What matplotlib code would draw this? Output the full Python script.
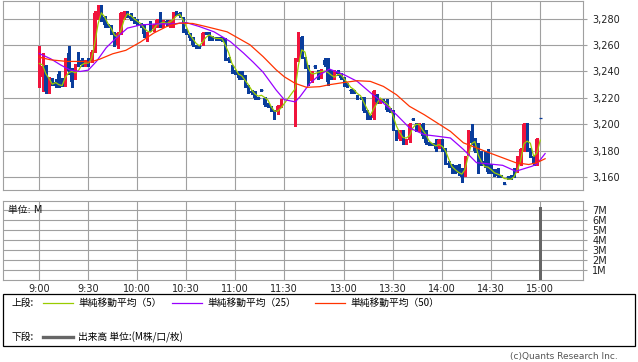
import numpy as np
import pandas as pd
import matplotlib
matplotlib.use("Agg")
import matplotlib.pyplot as plt
from matplotlib.patches import Rectangle
from matplotlib.lines import Line2D

plt.rcParams["font.family"] = ["DejaVu Sans", "Noto Sans CJK JP"]

# ---- colours ----
UP = "#f0143c"
DOWN = "#0a3d9c"
MA5_C = "#99cc00"
MA25_C = "#9900ff"
MA50_C = "#ff3300"
GRID = "#a0a0a0"
VOL_C = "#666666"

# ---- 2-minute bars, morning session 9:00-11:28 ----
am_open = [3240, 3236, 3244, 3225, 3234, 3232, 3238, 3233, 3230, 3254, 3240, 3235, 3250, 3249, 3244,
           3248, 3248, 3256, 3285, 3289, 3281, 3275, 3274, 3269, 3260, 3269, 3282, 3285, 3282, 3280,
           3279, 3276, 3275, 3264, 3277, 3272, 3275, 3279, 3275, 3278, 3275, 3276, 3285, 3284, 3280,
           3271, 3268, 3265, 3259, 3259, 3262, 3269, 3269, 3266, 3265, 3265, 3265, 3264, 3250, 3244,
           3240, 3239, 3239, 3236, 3229, 3225, 3224, 3220, 3226, 3220, 3215, 3213, 3210, 3209, 3214]
am_high = [3259, 3254, 3245, 3236, 3235, 3234, 3240, 3235, 3250, 3259, 3243, 3246, 3255, 3250, 3249,
           3250, 3256, 3286, 3290, 3290, 3282, 3276, 3275, 3270, 3270, 3285, 3286, 3286, 3284, 3281,
           3280, 3277, 3276, 3270, 3278, 3276, 3280, 3285, 3279, 3279, 3279, 3285, 3286, 3285, 3281,
           3272, 3269, 3266, 3260, 3260, 3270, 3270, 3270, 3267, 3266, 3266, 3266, 3265, 3251, 3245,
           3241, 3240, 3240, 3237, 3230, 3226, 3225, 3221, 3227, 3221, 3216, 3214, 3211, 3215, 3219]
am_low = [3228, 3225, 3224, 3224, 3230, 3228, 3228, 3229, 3229, 3238, 3228, 3234, 3244, 3244, 3244,
          3244, 3247, 3255, 3280, 3278, 3274, 3274, 3268, 3259, 3258, 3268, 3280, 3281, 3279, 3277,
          3275, 3274, 3266, 3263, 3271, 3271, 3274, 3274, 3274, 3275, 3274, 3274, 3283, 3281, 3270,
          3268, 3264, 3259, 3258, 3258, 3260, 3268, 3264, 3264, 3264, 3264, 3263, 3249, 3247, 3239,
          3238, 3234, 3234, 3228, 3224, 3223, 3219, 3219, 3225, 3214, 3213, 3210, 3204, 3208, 3213]
am_close = [3246, 3244, 3225, 3235, 3231, 3229, 3230, 3229, 3248, 3240, 3232, 3245, 3245, 3245, 3249,
            3245, 3255, 3284, 3289, 3280, 3275, 3274, 3269, 3260, 3269, 3284, 3285, 3282, 3280, 3278,
            3276, 3275, 3268, 3269, 3272, 3275, 3279, 3275, 3278, 3276, 3278, 3284, 3284, 3282, 3271,
            3269, 3265, 3260, 3259, 3259, 3269, 3269, 3265, 3265, 3265, 3265, 3264, 3250, 3248, 3240,
            3239, 3235, 3236, 3229, 3225, 3224, 3220, 3220, 3226, 3215, 3214, 3211, 3205, 3214, 3218]

# ---- 2-minute bars, afternoon session 12:30-14:58 ----
pm_open = [3200, 3249, 3266, 3250, 3244, 3233, 3244, 3240, 3236, 3249, 3245, 3240, 3235, 3240, 3238,
           3235, 3230, 3226, 3225, 3221, 3220, 3220, 3210, 3206, 3205, 3222, 3217, 3218, 3218, 3211,
           3210, 3195, 3189, 3195, 3186, 3188, 3204, 3200, 3196, 3200, 3195, 3186, 3185, 3186, 3183,
           3188, 3181, 3171, 3169, 3168, 3169, 3166, 3162, 3178, 3195, 3189, 3185, 3179, 3172, 3180,
           3169, 3165, 3166, 3161, 3155, 3160, 3161, 3166, 3165, 3170, 3181, 3200, 3181, 3176, 3170]
pm_high = [3250, 3270, 3267, 3251, 3245, 3240, 3245, 3241, 3242, 3250, 3250, 3241, 3241, 3241, 3239,
           3236, 3231, 3227, 3226, 3222, 3221, 3221, 3211, 3207, 3226, 3223, 3219, 3219, 3219, 3212,
           3211, 3196, 3196, 3196, 3189, 3201, 3205, 3201, 3201, 3201, 3196, 3187, 3186, 3189, 3189,
           3189, 3182, 3172, 3170, 3169, 3170, 3167, 3176, 3196, 3200, 3190, 3186, 3180, 3180, 3181,
           3170, 3166, 3167, 3162, 3156, 3161, 3162, 3167, 3176, 3182, 3201, 3201, 3182, 3177, 3190]
pm_low = [3199, 3248, 3250, 3243, 3230, 3232, 3243, 3234, 3235, 3244, 3230, 3234, 3234, 3237, 3234,
          3229, 3228, 3224, 3224, 3219, 3219, 3209, 3204, 3204, 3204, 3216, 3216, 3217, 3210, 3209,
          3196, 3188, 3188, 3185, 3185, 3187, 3203, 3195, 3195, 3190, 3185, 3184, 3184, 3180, 3182,
          3180, 3170, 3168, 3163, 3163, 3162, 3156, 3161, 3177, 3185, 3179, 3163, 3169, 3168, 3163,
          3163, 3161, 3160, 3160, 3155, 3159, 3159, 3160, 3164, 3169, 3180, 3180, 3175, 3169, 3169]
pm_close = [3249, 3268, 3252, 3244, 3232, 3239, 3244, 3235, 3241, 3245, 3232, 3235, 3240, 3238, 3235,
            3230, 3229, 3225, 3225, 3220, 3220, 3210, 3205, 3205, 3225, 3217, 3218, 3218, 3211, 3210,
            3197, 3189, 3195, 3186, 3188, 3200, 3204, 3196, 3200, 3191, 3186, 3185, 3185, 3181, 3188,
            3181, 3171, 3169, 3164, 3164, 3163, 3160, 3175, 3195, 3186, 3180, 3165, 3170, 3169, 3164,
            3164, 3162, 3161, 3161, 3155, 3160, 3160, 3161, 3175, 3181, 3200, 3181, 3176, 3170, 3189]

# closing auction at 15:00
close_auction = 3205
close_volume = 7.3          # M shares

# moving averages (clock time, price)
ma25_time = ["9:00", "9:07", "9:13", "9:19", "9:25", "9:30", "9:35", "9:41", "9:47", "9:54",
             "10:02", "10:12", "10:22", "10:30", "10:38", "10:47", "10:57", "11:05", "11:11",
             "11:17", "11:25", "11:30", "12:30", "12:33", "12:39", "12:45", "12:51", "13:00",
             "13:08", "13:16", "13:24", "13:32", "13:40", "13:49", "13:57", "14:05", "14:13",
             "14:21", "14:29", "14:37", "14:45", "14:55", "14:58", "15:03"]
ma25_val = [3253.6, 3249.6, 3245.0, 3241.0, 3240.0, 3241.0, 3247.6, 3258.0, 3265.2, 3272.8,
            3275.2, 3276.0, 3276.0, 3277.0, 3274.0, 3270.0, 3262.6, 3254.0, 3247.0,
            3239.5, 3226.0, 3218.7, 3217.0, 3221.0, 3231.0, 3237.5, 3241.8, 3237.5,
            3232.5, 3224.0, 3216.0, 3207.3, 3197.3, 3192.2, 3191.0, 3189.7, 3181.0,
            3171.0, 3170.0, 3169.0, 3164.5, 3168.3, 3170.0, 3177.9]

ma50_time = ["9:00", "9:07", "9:17", "9:27", "9:31", "9:37", "9:45", "9:53", "10:02", "10:10",
             "10:18", "10:26", "10:34", "10:42", "10:55", "11:09", "11:17", "11:25", "11:30",
             "12:30", "12:37", "12:45", "12:51", "13:00", "13:08", "13:16", "13:24", "13:32",
             "13:40", "13:49", "13:57", "14:05", "14:13", "14:21", "14:29", "14:37", "14:45",
             "14:53", "14:58", "15:03"]
ma50_val = [3250.8, 3248.8, 3247.6, 3247.6, 3247.0, 3249.3, 3253.4, 3256.0, 3262.3, 3269.0,
            3274.0, 3276.6, 3276.3, 3274.0, 3270.0, 3260.2, 3251.3, 3241.3, 3236.0,
            3231.0, 3228.0, 3228.5, 3230.0, 3231.7, 3233.0, 3232.5, 3228.7, 3222.4,
            3213.6, 3207.3, 3201.0, 3194.7, 3186.0, 3182.2, 3178.4, 3174.7, 3171.0,
            3169.6, 3171.0, 3174.0]

time_labels = ["9:00", "9:30", "10:00", "10:30", "11:00", "11:30",
               "13:00", "13:30", "14:00", "14:30", "15:00"]
price_ticks = [3160, 3180, 3200, 3220, 3240, 3260, 3280]
vol_ticks = [1, 2, 3, 4, 5, 6, 7]

# ---- time axis: minutes since 9:00, lunch break squeezed to a short gap ----
PM_START = 156.7


def pos(clock):
    h, m = map(int, clock.split(":"))
    mins = h * 60 + m
    if mins <= 11 * 60 + 30:
        return mins - 9 * 60
    return PM_START + mins - (12 * 60 + 30)


am_x = np.array([pos("9:00") + 2 * i for i in range(len(am_close))])
pm_x = np.array([pos("12:30") + 2 * i for i in range(len(pm_close))])
x = np.concatenate([am_x, pm_x, [pos("15:00")]])
o = np.array(am_open + pm_open + [close_auction], float)
h = np.array(am_high + pm_high + [close_auction], float)
l = np.array(am_low + pm_low + [close_auction], float)
c = np.array(am_close + pm_close + [close_auction], float)
ma5 = pd.Series(c).rolling(3, min_periods=1).mean()

W, H = 638, 362
fig = plt.figure(figsize=(W / 100, H / 100), dpi=100)
ax = fig.add_axes([3 / W, 1 - 189.5 / H, 580 / W, 189 / H])
axv = fig.add_axes([3 / W, 1 - 280 / H, 580 / W, 79 / H])

grid_x = [pos(t) for t in time_labels]
for a in (ax, axv):
    a.set_xlim(-22.2, 332.9)
    a.set_xticks(grid_x)
    for s in a.spines.values():
        s.set_color(GRID)
        s.set_linewidth(0.8)
    a.grid(True, color=GRID, lw=0.8)
    a.set_axisbelow(True)
    a.yaxis.tick_right()
    a.tick_params(axis="y", direction="out", length=3.2, width=0.8, color=GRID,
                  labelsize=7, pad=3.5, labelcolor="#222222")

# ---- candles ----
wdt = 1.8
up = c > o
cols = np.where(up, UP, DOWN)
ax.vlines(x, l, h, colors=cols, lw=0.8, antialiased=False, zorder=2)
body = np.abs(c - o)
flat = body < 0.5
ax.bar(x[~flat], body[~flat], bottom=np.minimum(o, c)[~flat], width=wdt,
       color=cols[~flat], lw=0, antialiased=False, zorder=3)
ax.hlines(c[flat], x[flat] - wdt / 2, x[flat] + wdt / 2, colors=DOWN, lw=0.9, zorder=3)

ax.plot(x, ma5, color=MA5_C, lw=0.9, zorder=4)
ax.plot([pos(t) for t in ma25_time], ma25_val, color=MA25_C, lw=0.9, zorder=4)
ax.plot([pos(t) for t in ma50_time], ma50_val, color=MA50_C, lw=0.9, zorder=4)

ax.set_ylim(3150.7, 3293.7)
ax.set_yticks(price_ticks)
ax.set_yticklabels([f"{v:,}" for v in price_ticks])
ax.tick_params(axis="x", length=0, labelbottom=False)

# ---- volume ----
axv.bar([pos("15:00")], [close_volume], width=1.9, color=VOL_C, lw=0, zorder=3)
axv.set_ylim(0, 7.9)
axv.set_yticks(vol_ticks)
axv.set_yticklabels([f"{v}M" for v in vol_ticks])
axv.set_xticklabels(time_labels)
axv.tick_params(axis="x", length=0, labelsize=7, pad=3, labelcolor="#222222")
axv.text(5 / 580, 1 - 9 / 79, "単位: M", transform=axv.transAxes, fontsize=7,
         va="center", ha="left", color="#111111")


# ---- legend box ----
def fx(px):
    return px / W


def fy(py):
    return 1 - py / H


fig.patches.append(Rectangle((fx(3), fy(346)), fx(632), 52 / H, transform=fig.transFigure,
                             fill=False, edgecolor="black", lw=0.9))
jp = ["Noto Sans CJK JP", "DejaVu Sans"]
fig.text(fx(12), fy(303), "上段:", fontsize=7, va="center", family=jp)
for x0, col, lab in [(43, MA5_C, "単純移動平均（5）"), (172, MA25_C, "単純移動平均（25）"),
                     (315, MA50_C, "単純移動平均（50）")]:
    fig.add_artist(Line2D([fx(x0), fx(x0 + 30)], [fy(303), fy(303)], color=col, lw=0.9))
    fig.text(fx(x0 + 35), fy(303), lab, fontsize=7, va="center", family=jp)
fig.text(fx(12), fy(337), "下段:", fontsize=7, va="center", family=jp)
fig.add_artist(Line2D([fx(43), fx(73)], [fy(337), fy(337)], color=VOL_C, lw=2.4))
fig.text(fx(78), fy(337), "出来高 単位:(M株/口/枚)", fontsize=7, va="center", family=jp)

fig.text(fx(618), fy(357), "(c)Quants Research Inc.", fontsize=6.5, ha="right",
         va="center", color="#555555")

fig.savefig("out.png", dpi=100)
